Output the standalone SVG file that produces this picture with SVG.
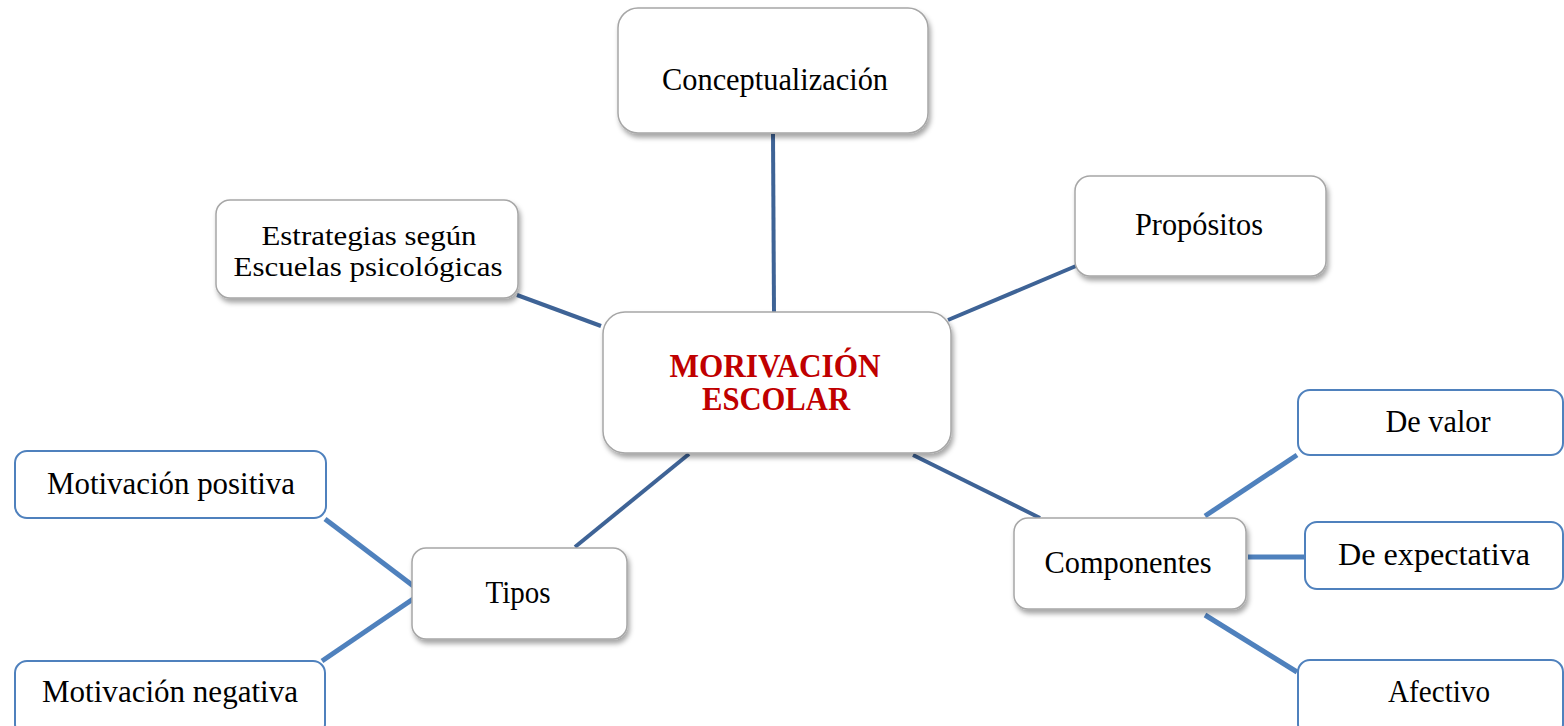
<svg xmlns="http://www.w3.org/2000/svg" width="1564" height="726" viewBox="0 0 1564 726">
<defs>
<filter id="sh" x="-10%" y="-10%" width="125%" height="135%">
<feDropShadow dx="2" dy="4" stdDeviation="2.5" flood-color="#000" flood-opacity="0.35"/>
</filter>
<style>
.g{fill:#fff;stroke:#a6a6a6;stroke-width:1.5;filter:url(#sh)}
.b{fill:#fff;stroke:#4f81bd;stroke-width:2}
.t{font-family:"Liberation Serif","Times New Roman",serif;font-size:31px;fill:#000;text-anchor:middle}
.s{font-size:27px}
.m{font-family:"Liberation Serif","Times New Roman",serif;font-size:33px;font-weight:bold;fill:#c00000;text-anchor:middle}
.c1{stroke:#3e6396;stroke-width:4;fill:none}
.c2{stroke:#4f81bd;stroke-width:5;fill:none}
</style>
</defs>
<rect width="1564" height="726" fill="#fff"/>
<g id="connectors">
<line class="c1" x1="773" y1="134" x2="774" y2="312"/>
<line class="c1" x1="517" y1="295" x2="601" y2="326"/>
<line class="c1" x1="948" y1="320" x2="1076" y2="266"/>
<line class="c1" x1="689" y1="454" x2="575" y2="547"/>
<line class="c1" x1="913" y1="455" x2="1040" y2="518"/>
<line class="c2" x1="325" y1="519" x2="416" y2="588"/>
<line class="c2" x1="322" y1="661" x2="416" y2="597"/>
<line class="c2" x1="1205" y1="516" x2="1297" y2="455"/>
<line class="c2" x1="1248" y1="557" x2="1306" y2="557"/>
<line class="c2" x1="1205" y1="615" x2="1297" y2="672"/>
</g>
<g id="n-concept">
<rect class="g" x="618" y="8" width="310" height="125" rx="20"/>
<text class="t" x="775" y="90" textLength="226" lengthAdjust="spacingAndGlyphs">Conceptualización</text>
</g>
<g id="n-estrategias">
<rect class="g" x="216" y="200" width="302" height="98" rx="14"/>
<text class="t s" x="369" y="245" textLength="215" lengthAdjust="spacingAndGlyphs">Estrategias  según</text>
<text class="t s" x="368" y="276" textLength="269" lengthAdjust="spacingAndGlyphs">Escuelas  psicológicas</text>
</g>
<g id="n-propositos">
<rect class="g" x="1075" y="176" width="251" height="100" rx="15"/>
<text class="t" x="1199" y="235" textLength="128" lengthAdjust="spacingAndGlyphs">Propósitos</text>
</g>
<g id="n-center">
<rect class="g" x="603" y="312" width="348" height="141" rx="22"/>
<text class="m" x="775" y="377" textLength="211" lengthAdjust="spacingAndGlyphs">MORIVACIÓN</text>
<text class="m" x="776" y="410" textLength="148" lengthAdjust="spacingAndGlyphs">ESCOLAR</text>
</g>
<g id="n-tipos">
<rect class="g" x="412" y="548" width="215" height="91" rx="14"/>
<text class="t" x="518" y="603" textLength="65" lengthAdjust="spacingAndGlyphs">Tipos</text>
</g>
<g id="n-componentes">
<rect class="g" x="1014" y="518" width="232" height="91" rx="14"/>
<text class="t" x="1128" y="573" textLength="167" lengthAdjust="spacingAndGlyphs">Componentes</text>
</g>
<g id="n-positiva">
<rect class="b" x="15" y="451" width="311" height="67" rx="12"/>
<text class="t" x="171" y="494" textLength="248" lengthAdjust="spacingAndGlyphs">Motivación  positiva</text>
</g>
<g id="n-negativa">
<rect class="b" x="15" y="661" width="310" height="75" rx="12"/>
<text class="t" x="170" y="702" textLength="256" lengthAdjust="spacingAndGlyphs">Motivación  negativa</text>
</g>
<g id="n-valor">
<rect class="b" x="1298" y="390" width="265" height="65" rx="12"/>
<text class="t" x="1438" y="432" textLength="105" lengthAdjust="spacingAndGlyphs">De valor</text>
</g>
<g id="n-expectativa">
<rect class="b" x="1305" y="522" width="258" height="67" rx="12"/>
<text class="t" x="1434" y="565" textLength="192" lengthAdjust="spacingAndGlyphs">De expectativa</text>
</g>
<g id="n-afectivo">
<rect class="b" x="1298" y="660" width="265" height="76" rx="12"/>
<text class="t" x="1439" y="702" textLength="102" lengthAdjust="spacingAndGlyphs">Afectivo</text>
</g>
</svg>
